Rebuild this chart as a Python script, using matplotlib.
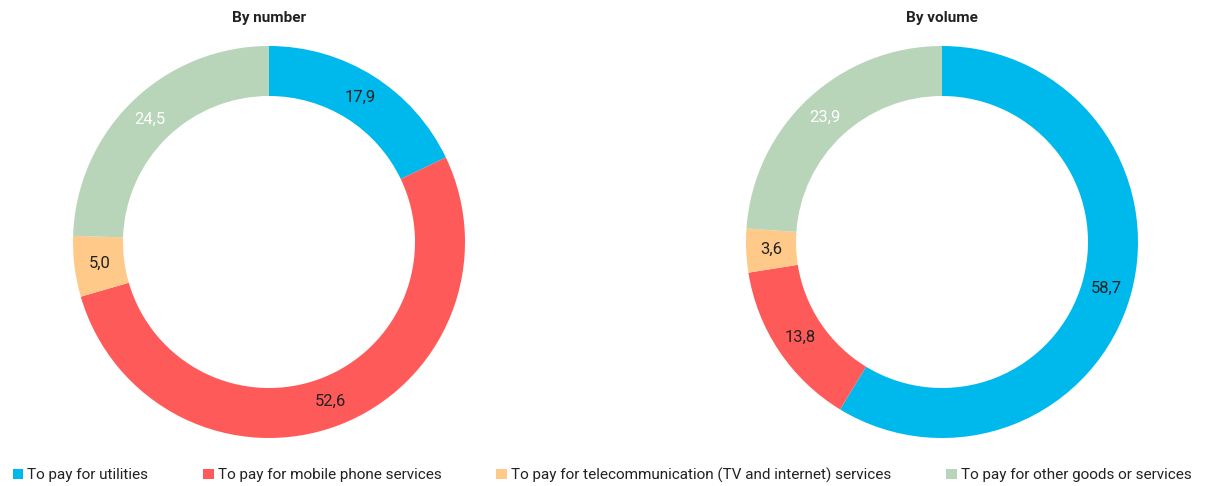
import numpy as np
import matplotlib.pyplot as plt

plt.rcParams['font.family'] = ['Roboto', 'DejaVu Sans']

categories = ["To pay for utilities", "To pay for mobile phone services",
              "To pay for telecommunication (TV and internet) services",
              "To pay for other goods or services"]
by_number = [17.9, 52.6, 5.0, 24.5]
by_volume = [58.7, 13.8, 3.6, 23.9]
colors = ["#00b9ec", "#ff5a5a", "#ffc98a", "#b8d4b9"]
label_colors = ["#222222", "#222222", "#222222", "white"]

W, H = 1209, 486
fig = plt.figure(figsize=(W / 100, H / 100), dpi=100)


def donut(cx, cy, values, title):
    ax = fig.add_axes([(cx - 200) / W, (H - cy - 200) / H, 400 / W, 400 / H])
    wedges, _ = ax.pie(values, colors=colors, startangle=90, counterclock=False,
                       radius=0.98, wedgeprops=dict(width=0.25, edgecolor='none'))
    for w, v, c in zip(wedges, values, label_colors):
        ang = np.deg2rad((w.theta1 + w.theta2) / 2)
        r = 0.855
        ax.text(r * np.cos(ang), r * np.sin(ang), f"{v:.1f}".replace(".", ","),
                ha='center', va='center', fontsize=12, color=c)
    ax.set_xlim(-1, 1)
    ax.set_ylim(-1, 1)
    ax.set_aspect('equal')
    fig.text(cx / W, 1 - 18 / H, title, ha='center', va='center',
             fontsize=11, fontweight='bold', color='#222222')
    return wedges


wedges = donut(269, 242, by_number, "By number")
donut(942, 242, by_volume, "By volume")

fig.legend(wedges, categories, loc='center left', bbox_to_anchor=(8 / W, 1 - 475 / H),
           ncol=4, frameon=False, fontsize=11, handlelength=0.7, handleheight=0.7,
           handletextpad=0.25, columnspacing=3.6, borderaxespad=0, borderpad=0.3,
           labelcolor='#222222')

fig.savefig("out.png", dpi=100)
